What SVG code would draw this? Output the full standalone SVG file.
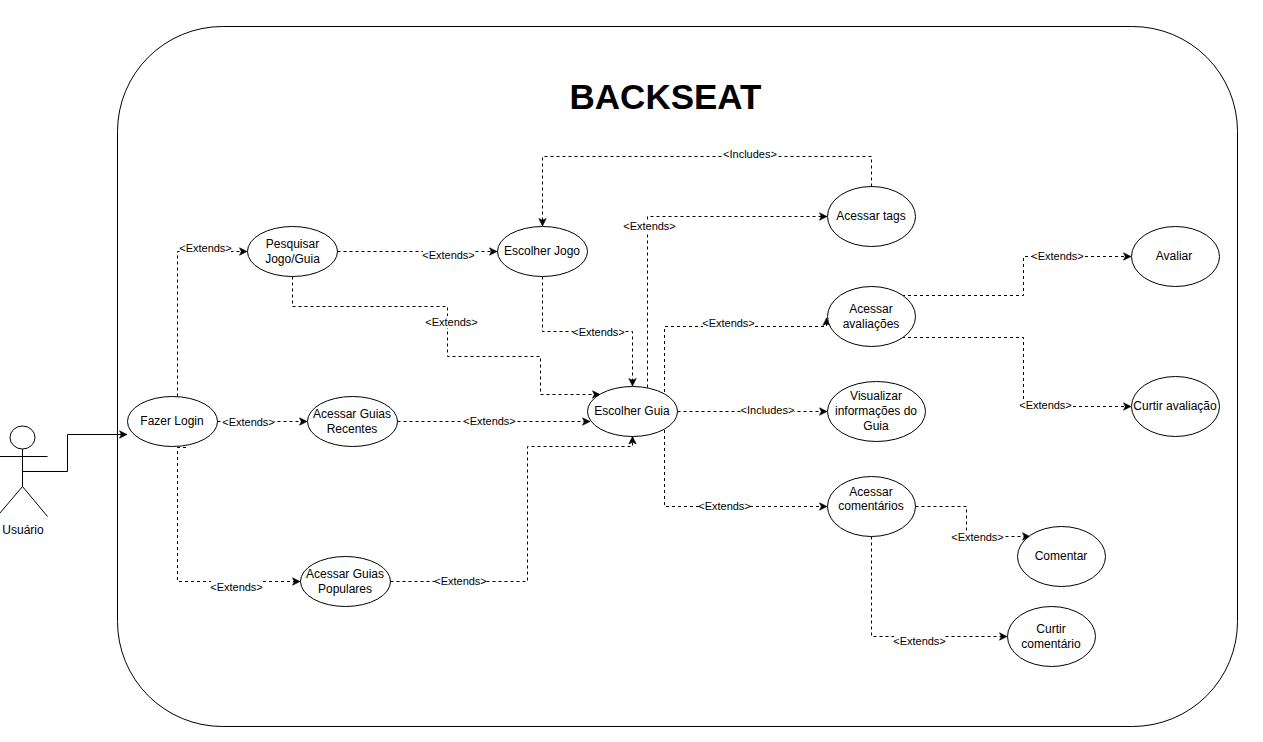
<svg xmlns="http://www.w3.org/2000/svg" width="1263" height="742" viewBox="0 0 1263 742">
<style>
text{font-family:"Liberation Sans",Arial,sans-serif;fill:#000;text-anchor:middle}
.n{font-size:12px}
.l{font-size:11px}
.u{fill:#fff;stroke:#000;stroke-width:1}
.c{fill:none;stroke:#000;stroke-width:1;stroke-dasharray:3 3;marker-end:url(#a)}
.s{fill:none;stroke:#000;stroke-width:1;marker-end:url(#a)}
.b{fill:#fff;stroke:none}
</style>
<defs>
<marker id="a" markerUnits="userSpaceOnUse" markerWidth="9" markerHeight="9" refX="8" refY="4.5" orient="auto">
<path d="M0.5,0.8L8,4.5L0.5,8.2L2.3,4.5Z" fill="#000" stroke="#000" stroke-width="0.6"/>
</marker>
</defs>
<g id="system">
<rect x="117.5" y="26.5" width="1120" height="700" rx="105" ry="105" fill="#fff" stroke="#000"/>
<text x="665.5" y="109" font-size="35" font-weight="700">BACKSEAT</text>
</g>
<g id="connectors">
<path class="s" d="M22.5,471.5H67.5V434.5H127"/>
<path class="c" d="M177.5,396.5V251.5H247"/>
<path class="c" d="M217.5,421.5H307"/>
<path class="c" d="M186,447.5H177.5V581.5H300"/>
<path class="c" d="M337.5,251.5H497"/>
<path class="c" d="M292.5,276.5V306.5H447.5V356.5H540.5V394.500H600"/>
<path class="c" d="M542.5,276.500V331.500H632.5V386"/>
<path class="c" d="M397.5,421.5H590"/>
<path class="c" d="M390.5,581.500H527.5V446.500H632.5V436.500"/>
<path class="c" d="M647.5,387.500V216.500H827"/>
<path class="c" d="M664.500,392V326.500H826.500V318"/>
<path class="c" d="M677.500,411.500H827"/>
<path class="c" d="M664.500,430V506.500H827"/>
<path class="c" d="M871.500,186.500V156.500H542.500V226"/>
<path class="c" d="M902,295.500H1023.500V256.500H1131"/>
<path class="c" d="M902,337.500H1023.500V406.500H1131"/>
<path class="c" d="M915.500,506.500H966.500V536.500H1030"/>
<path class="c" d="M871.500,536.500V636.500H1007"/>
<g id="labels">
<rect class="b" x="180" y="242" width="51" height="12"/><text class="l" x="205.500" y="252">&lt;Extends&gt;</text>
<rect class="b" x="223" y="416" width="51" height="12"/><text class="l" x="248.500" y="426">&lt;Extends&gt;</text>
<rect class="b" x="211" y="581" width="51" height="12"/><text class="l" x="236.500" y="591">&lt;Extends&gt;</text>
<rect class="b" x="423" y="249" width="51" height="12"/><text class="l" x="448.500" y="259">&lt;Extends&gt;</text>
<rect class="b" x="426" y="316" width="51" height="12"/><text class="l" x="451.500" y="326">&lt;Extends&gt;</text>
<rect class="b" x="573" y="326" width="51" height="12"/><text class="l" x="598.500" y="336">&lt;Extends&gt;</text>
<rect class="b" x="464" y="415" width="51" height="12"/><text class="l" x="489.500" y="425">&lt;Extends&gt;</text>
<rect class="b" x="435" y="575" width="51" height="12"/><text class="l" x="460.500" y="585">&lt;Extends&gt;</text>
<rect class="b" x="624" y="220" width="51" height="12"/><text class="l" x="649.500" y="230">&lt;Extends&gt;</text>
<rect class="b" x="703" y="317" width="51" height="12"/><text class="l" x="728.500" y="327">&lt;Extends&gt;</text>
<rect class="b" x="741" y="404" width="53" height="12"/><text class="l" x="767.500" y="414">&lt;Includes&gt;</text>
<rect class="b" x="699" y="500" width="51" height="12"/><text class="l" x="724.500" y="510">&lt;Extends&gt;</text>
<rect class="b" x="723" y="148" width="53" height="12"/><text class="l" x="750" y="158">&lt;Includes&gt;</text>
<rect class="b" x="1032" y="250" width="51" height="12"/><text class="l" x="1057.500" y="260">&lt;Extends&gt;</text>
<rect class="b" x="1020" y="399" width="51" height="12"/><text class="l" x="1045.500" y="409">&lt;Extends&gt;</text>
<rect class="b" x="952" y="531" width="51" height="12"/><text class="l" x="977.500" y="541">&lt;Extends&gt;</text>
<rect class="b" x="894" y="635" width="51" height="12"/><text class="l" x="919.500" y="645">&lt;Extends&gt;</text>
</g>
</g>
<g id="actor-usuario">
<ellipse cx="22.500" cy="437.500" rx="12.500" ry="11.500" fill="#fff" stroke="#000"/>
<path d="M22.500,449V486.500M-3,456.500H47.500M22.500,486.500L-3,516.500M22.500,486.500L47.500,516.500" fill="none" stroke="#000"/>
<text class="n" x="23" y="534">Usuário</text>
</g>
<g id="fazer-login"><ellipse class="u" cx="172.500" cy="421.500" rx="45" ry="25"/><text class="n" x="172" y="425">Fazer Login</text></g>
<g id="pesquisar"><ellipse class="u" cx="292.500" cy="251.500" rx="45" ry="25"/><text class="n" x="292.500" y="248">Pesquisar</text><text class="n" x="292.500" y="263">Jogo/Guia</text></g>
<g id="guias-recentes"><ellipse class="u" cx="352.500" cy="421.500" rx="45" ry="25"/><text class="n" x="352" y="418">Acessar Guias</text><text class="n" x="352" y="433">Recentes</text></g>
<g id="guias-populares"><ellipse class="u" cx="345.500" cy="581.500" rx="45" ry="25"/><text class="n" x="345" y="578">Acessar Guias</text><text class="n" x="345" y="593">Populares</text></g>
<g id="escolher-jogo"><ellipse class="u" cx="542.500" cy="251.500" rx="45" ry="25"/><text class="n" x="542" y="255">Escolher Jogo</text></g>
<g id="escolher-guia"><ellipse class="u" cx="632.500" cy="411.500" rx="45" ry="25"/><text class="n" x="632" y="415">Escolher Guia</text></g>
<g id="acessar-tags"><ellipse class="u" cx="871.500" cy="216.500" rx="44" ry="30"/><text class="n" x="871" y="220">Acessar tags</text></g>
<g id="acessar-avaliacoes"><ellipse class="u" cx="871.500" cy="316.500" rx="44" ry="30"/><text class="n" x="871" y="313">Acessar</text><text class="n" x="871" y="328">avaliações</text></g>
<g id="visualizar"><ellipse class="u" cx="876.500" cy="411.500" rx="49" ry="30"/><text class="n" x="876" y="400">Visualizar</text><text class="n" x="876" y="415">informações do</text><text class="n" x="876" y="430">Guia</text></g>
<g id="acessar-comentarios"><ellipse class="u" cx="871.500" cy="506.500" rx="44" ry="30"/><text class="n" x="871" y="496">Acessar</text><text class="n" x="871" y="510">comentários</text></g>
<g id="avaliar"><ellipse class="u" cx="1175.500" cy="256.500" rx="44" ry="30"/><text class="n" x="1174" y="260">Avaliar</text></g>
<g id="curtir-avaliacao"><ellipse class="u" cx="1175.500" cy="406.500" rx="44" ry="30"/><text class="n" x="1175" y="410">Curtir avaliação</text></g>
<g id="comentar"><ellipse class="u" cx="1061.500" cy="556.500" rx="44" ry="30"/><text class="n" x="1061" y="560">Comentar</text></g>
<g id="curtir-comentario"><ellipse class="u" cx="1051.500" cy="636.500" rx="44" ry="30"/><text class="n" x="1051" y="633">Curtir</text><text class="n" x="1051" y="648">comentário</text></g>
</svg>
